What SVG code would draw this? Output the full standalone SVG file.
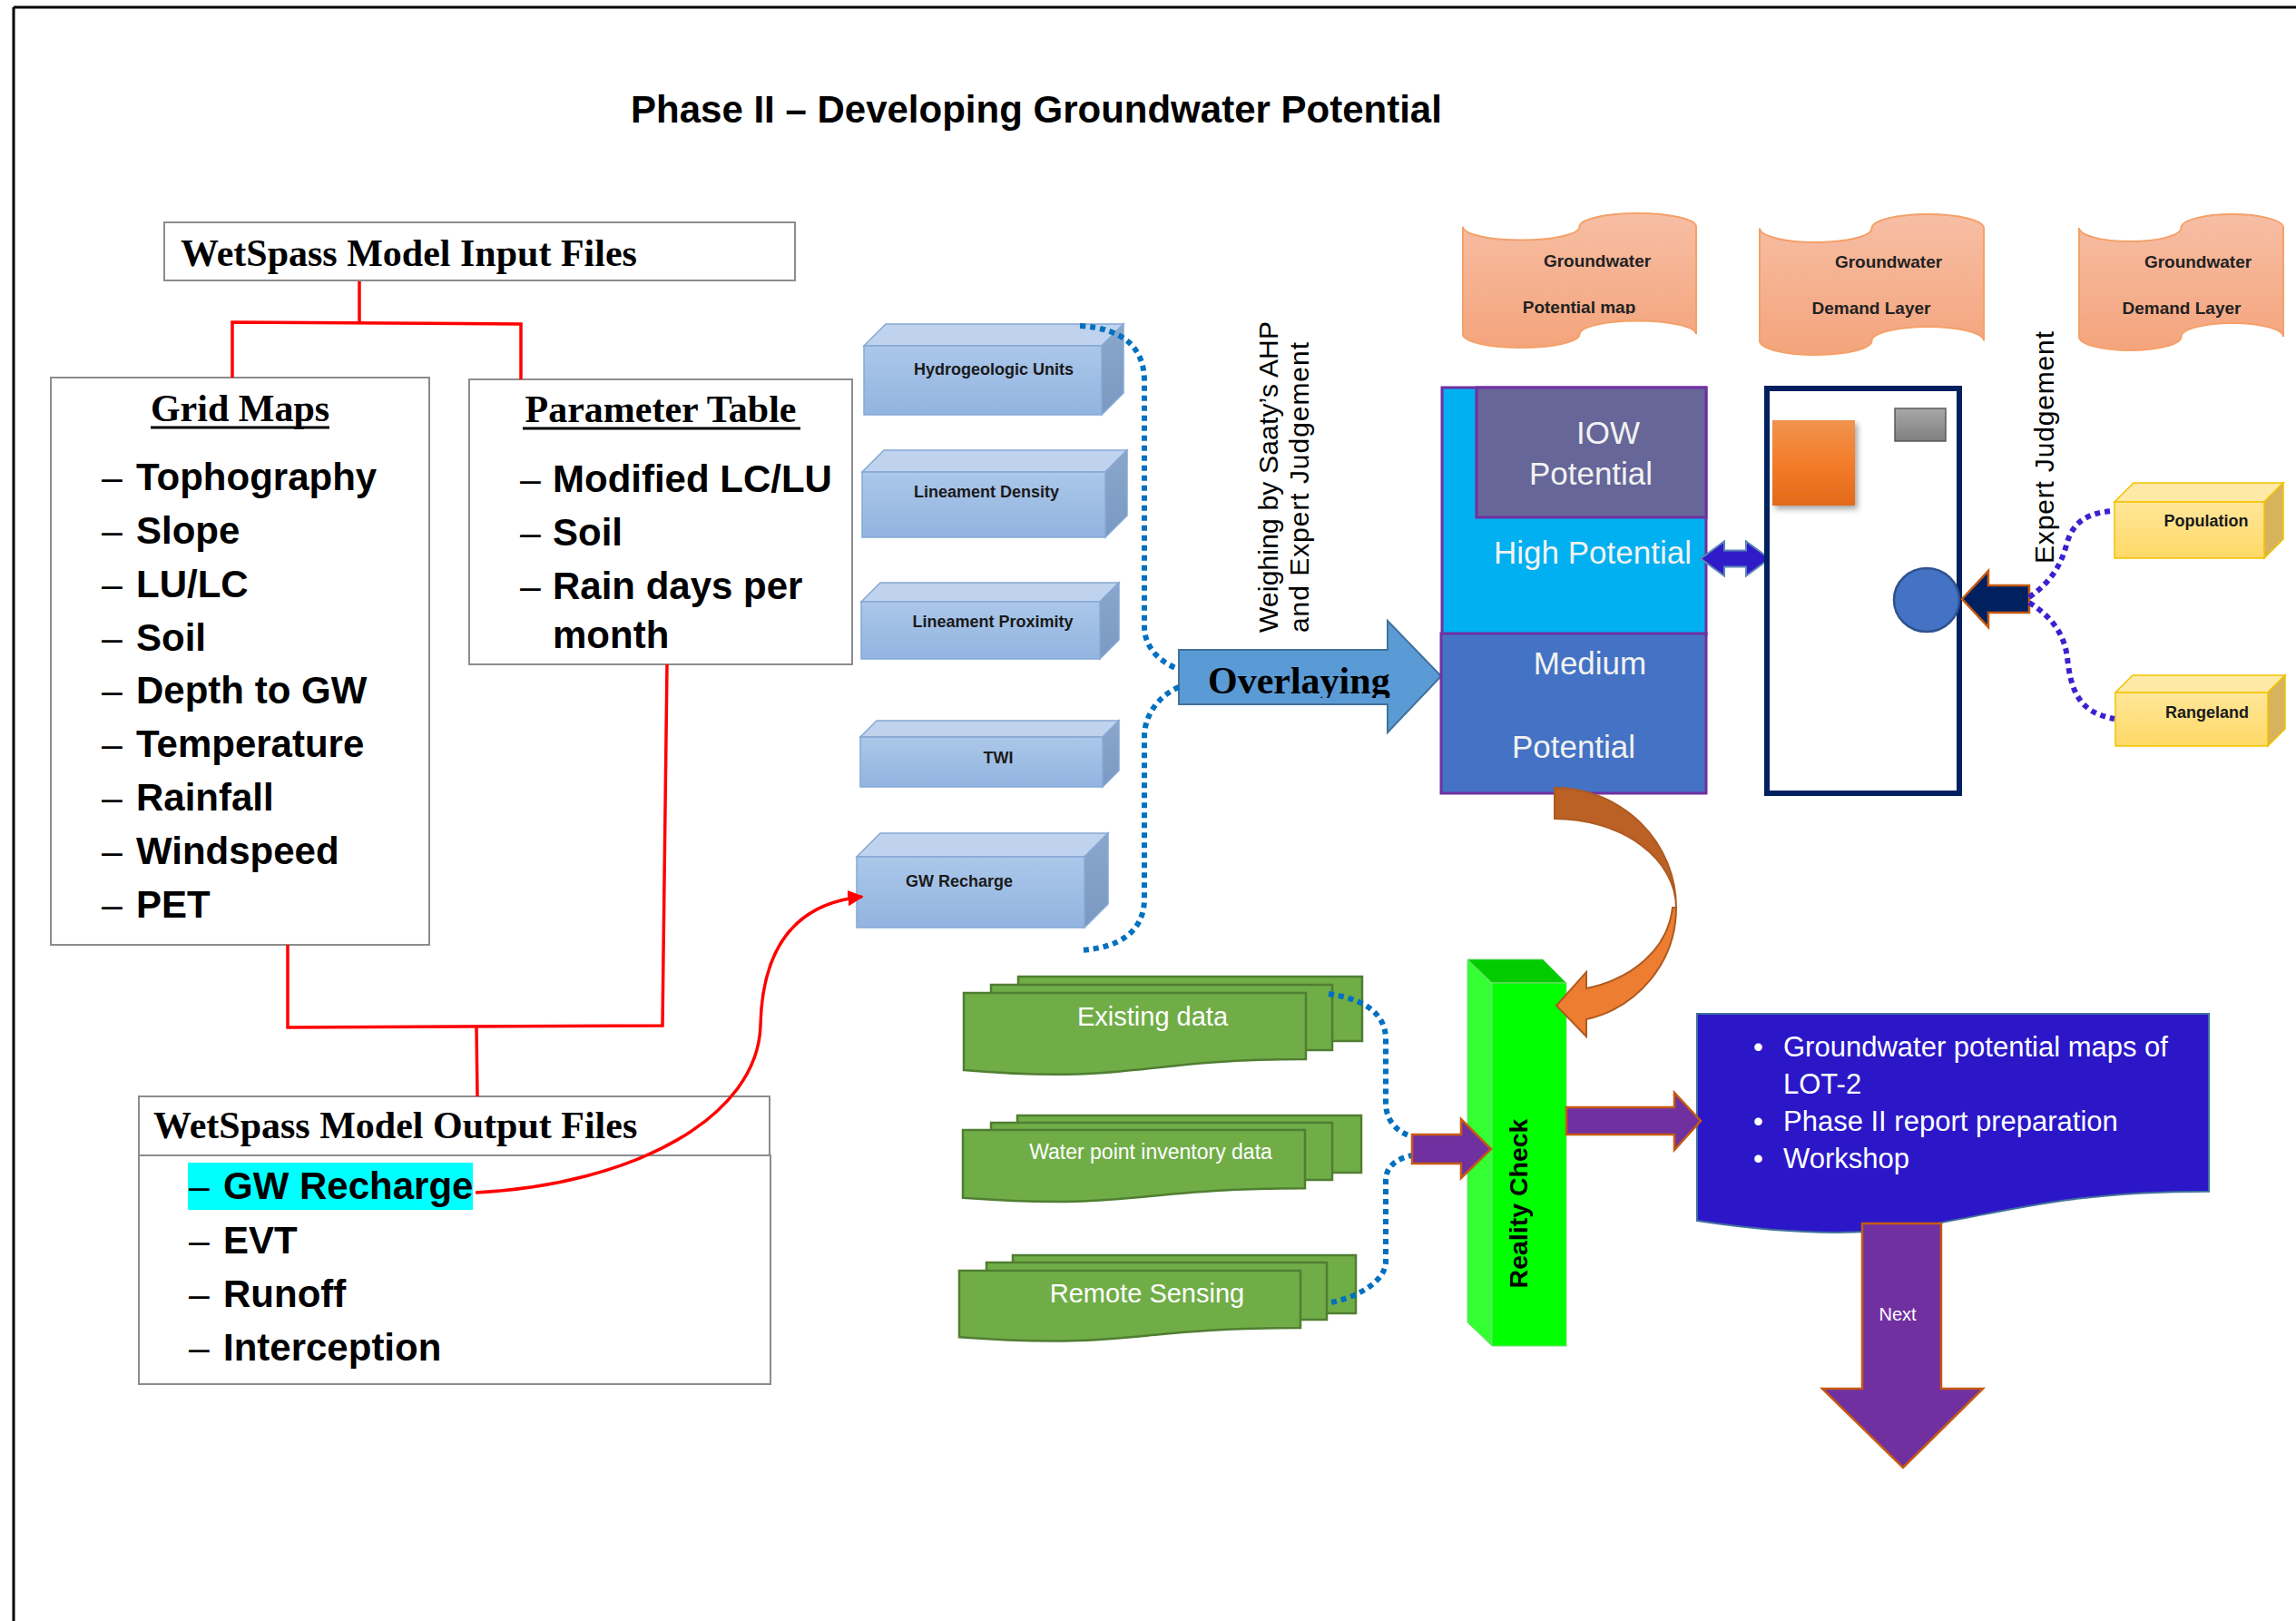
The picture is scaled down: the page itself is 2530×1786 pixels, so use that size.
<svg xmlns="http://www.w3.org/2000/svg" width="2530" height="1786" viewBox="0 0 2530 1786">
<defs>
<style>
.frame{stroke:#000;stroke-width:3;fill:none}
.box{fill:#fff;stroke:#8c8c8c;stroke-width:2}
.hd{font-family:"Liberation Serif","Times New Roman",serif;font-weight:bold;font-size:42px;fill:#000}
.it{font-family:"Liberation Sans",Arial,sans-serif;font-weight:bold;font-size:42px;fill:#000}
.ds{font-family:"Liberation Sans",Arial,sans-serif;font-size:41px;fill:#000}
.rl{stroke:#ff0000;stroke-width:3.5;fill:none}
.bdot{stroke:#0070c0;stroke-width:6;stroke-dasharray:6 5;fill:none}
.pdot{stroke:#3a22d0;stroke-width:6;stroke-dasharray:6 5;fill:none}
.bf{fill:url(#gBlueF);stroke:#86a8d4;stroke-width:1.5}
.bt{fill:#bfd3ee;stroke:#86a8d4;stroke-width:1.5}
.bs{fill:url(#gBlueS);stroke:#86a8d4;stroke-width:1.5}
.bl{font-family:"Liberation Sans",Arial,sans-serif;font-weight:bold;font-size:18px;fill:#1a1a1a;text-anchor:middle}
.yf{fill:url(#gYelF);stroke:#f2c200;stroke-width:1.5}
.yt{fill:#ffe9a6;stroke:#f2c200;stroke-width:1.5}
.ys{fill:#d8b35e;stroke:#f2c200;stroke-width:1.5}
.od{fill:url(#gOrDoc);stroke:#f4a169;stroke-width:2}
.ol{font-family:"Liberation Sans",Arial,sans-serif;font-weight:bold;font-size:19px;fill:#222;text-anchor:middle}
.pt{font-family:"Liberation Sans",Arial,sans-serif;font-size:35px;fill:#f2f2f2;text-anchor:middle}
.gd{fill:#70ad47;stroke:#507e32;stroke-width:2.5}
.gl{font-family:"Liberation Sans",Arial,sans-serif;fill:#fff;text-anchor:middle}
.vt{font-family:"Liberation Sans",Arial,sans-serif;font-size:30px;fill:#000}
.pa{fill:#7030a0;stroke:#c55a11;stroke-width:2.5}
.wt{font-family:"Liberation Sans",Arial,sans-serif;font-size:31px;fill:#fff}
</style>
<linearGradient id="gBlueF" x1="0" y1="0" x2="0" y2="1"><stop offset="0" stop-color="#abc7ea"/><stop offset="1" stop-color="#92b4df"/></linearGradient>
<linearGradient id="gBlueS" x1="0" y1="0" x2="0" y2="1"><stop offset="0" stop-color="#8aa6cb"/><stop offset="1" stop-color="#7a99c2"/></linearGradient>
<linearGradient id="gYelF" x1="0" y1="0" x2="0" y2="1"><stop offset="0" stop-color="#ffe699"/><stop offset="1" stop-color="#ffd966"/></linearGradient>
<linearGradient id="gOrDoc" x1="0" y1="0" x2="0" y2="1"><stop offset="0" stop-color="#f7bea4"/><stop offset="1" stop-color="#f4a47c"/></linearGradient>
<linearGradient id="gOrRect" x1="0" y1="0" x2="0" y2="1"><stop offset="0" stop-color="#f0934f"/><stop offset="0.5" stop-color="#f47c2a"/><stop offset="1" stop-color="#e26a1a"/></linearGradient>
<linearGradient id="gGray" x1="0" y1="0" x2="0" y2="1"><stop offset="0" stop-color="#a8a8a8"/><stop offset="1" stop-color="#7f7f7f"/></linearGradient>
<filter id="shadow" x="-20%" y="-20%" width="150%" height="150%"><feDropShadow dx="3" dy="4" stdDeviation="3" flood-color="#000" flood-opacity="0.35"/></filter>
<marker id="redHead" viewBox="0 0 10 10" refX="9" refY="5" markerWidth="5" markerHeight="5" orient="auto" markerUnits="strokeWidth"><path d="M0,0 L10,5 L0,10 Z" fill="#ff0000"/></marker>
<clipPath id="clipOver"><rect x="1290" y="700" width="320" height="69"/></clipPath>
<clipPath id="clipDoc1"><rect x="1600" y="230" width="280" height="116"/></clipPath>
</defs>

<rect x="0" y="0" width="2530" height="1786" fill="#fff"/>
<g id="page-frame">
<line class="frame" x1="15" y1="8" x2="2530" y2="8"/>
<line class="frame" x1="15" y1="8" x2="15" y2="1786"/>
</g>

<g id="title">
<text x="695" y="135" font-family="'Liberation Sans',Arial,sans-serif" font-weight="bold" font-size="42" fill="#000">Phase II – Developing Groundwater Potential</text>
</g>

<g id="input-files">
<rect class="box" x="181" y="245" width="695" height="64"/>
<text class="hd" x="199" y="293">WetSpass Model Input Files</text>
</g>

<g id="grid-maps">
<rect class="box" x="56" y="416" width="417" height="625"/>
<text class="hd" x="264.5" y="464" text-anchor="middle">Grid Maps</text>
<line x1="166" y1="471" x2="363" y2="471" stroke="#000" stroke-width="3"/>
<text class="ds" x="112" y="540">–</text><text class="it" x="150" y="540">Tophography</text>
<text class="ds" x="112" y="599">–</text><text class="it" x="150" y="599">Slope</text>
<text class="ds" x="112" y="658">–</text><text class="it" x="150" y="658">LU/LC</text>
<text class="ds" x="112" y="717">–</text><text class="it" x="150" y="717">Soil</text>
<text class="ds" x="112" y="775">–</text><text class="it" x="150" y="775">Depth to GW</text>
<text class="ds" x="112" y="834">–</text><text class="it" x="150" y="834">Temperature</text>
<text class="ds" x="112" y="893">–</text><text class="it" x="150" y="893">Rainfall</text>
<text class="ds" x="112" y="952">–</text><text class="it" x="150" y="952">Windspeed</text>
<text class="ds" x="112" y="1011">–</text><text class="it" x="150" y="1011">PET</text>
</g>

<g id="parameter-table">
<rect class="box" x="517" y="418" width="422" height="314"/>
<text class="hd" x="728" y="465" text-anchor="middle">Parameter Table</text>
<line x1="576" y1="472" x2="882" y2="472" stroke="#000" stroke-width="3"/>
<text class="ds" x="573" y="542">–</text><text class="it" x="609" y="542">Modified LC/LU</text>
<text class="ds" x="573" y="601">–</text><text class="it" x="609" y="601">Soil</text>
<text class="ds" x="573" y="660">–</text><text class="it" x="609" y="660">Rain days per</text>
<text class="it" x="609" y="714">month</text>
</g>

<g id="output-files">
<rect class="box" x="153" y="1208" width="695" height="65"/>
<rect class="box" x="153" y="1273" width="696" height="252"/>
<text class="hd" x="169" y="1254">WetSpass Model Output Files</text>
<rect x="207" y="1281" width="314" height="52" fill="#00ffff"/>
<text class="ds" x="208" y="1321">–</text><text class="it" x="246" y="1321">GW Recharge</text>
<text class="ds" x="208" y="1381">–</text><text class="it" x="246" y="1381">EVT</text>
<text class="ds" x="208" y="1440">–</text><text class="it" x="246" y="1440">Runoff</text>
<text class="ds" x="208" y="1499">–</text><text class="it" x="246" y="1499">Interception</text>
</g>

<g id="hydrogeologic-units">
<polygon class="bt" points="952,381 976,357 1238,357 1214,381"/>
<polygon class="bs" points="1214,381 1238,357 1238,433 1214,457"/>
<rect class="bf" x="952" y="381" width="262" height="76"/>
<text class="bl" x="1095" y="413">Hydrogeologic Units</text>
</g>
<g id="lineament-density">
<polygon class="bt" points="950,520 974,496 1242,496 1218,520"/>
<polygon class="bs" points="1218,520 1242,496 1242,568 1218,592"/>
<rect class="bf" x="950" y="520" width="268" height="72"/>
<text class="bl" x="1087" y="548">Lineament Density</text>
</g>
<g id="lineament-proximity">
<polygon class="bt" points="949,663 970,642 1233,642 1212,663"/>
<polygon class="bs" points="1212,663 1233,642 1233,705 1212,726"/>
<rect class="bf" x="949" y="663" width="263" height="63"/>
<text class="bl" x="1094" y="691">Lineament Proximity</text>
</g>
<g id="twi">
<polygon class="bt" points="948,812 966,794 1233,794 1215,812"/>
<polygon class="bs" points="1215,812 1233,794 1233,849 1215,867"/>
<rect class="bf" x="948" y="812" width="267" height="55"/>
<text class="bl" x="1100" y="841">TWI</text>
</g>
<g id="gw-recharge-layer">
<polygon class="bt" points="944,944 970,918 1221,918 1195,944"/>
<polygon class="bs" points="1195,944 1221,918 1221,996 1195,1022"/>
<rect class="bf" x="944" y="944" width="251" height="78"/>
<text class="bl" x="1057" y="977">GW Recharge</text>
</g>

<g id="overlaying">
<path d="M1299,716 L1529,716 L1529,684 L1588,745 L1529,807 L1529,776 L1299,776 Z" fill="#5b9bd5" stroke="#41719c" stroke-width="2"/>
<text class="hd" x="1331" y="764" clip-path="url(#clipOver)">Overlaying</text>
</g>

<g id="weighing-label">
<text class="vt" transform="translate(1408,697) rotate(-90)" textLength="343" lengthAdjust="spacing">Weighing by Saaty’s AHP</text>
<text class="vt" transform="translate(1442,697) rotate(-90)" textLength="320" lengthAdjust="spacing">and Expert Judgement</text>
</g>

<g id="gw-potential-map-doc">
<path class="od" d="M1612,249.8 A64.25,14.8 0 0 0 1740.5,249.8 A64.25,14.8 0 0 1 1869,249.8 L1869,368.2 A64.25,14.8 0 0 0 1740.5,368.2 A64.25,14.8 0 0 1 1612,368.2 Z"/>
<text class="ol" x="1760" y="294">Groundwater</text>
<text class="ol" x="1740" y="345" clip-path="url(#clipDoc1)">Potential map</text>
</g>
<g id="gw-demand-layer-1">
<path class="od" d="M1939,251.5 A61.75,15.5 0 0 0 2062.5,251.5 A61.75,15.5 0 0 1 2186,251.5 L2186,375.5 A61.75,15.5 0 0 0 2062.5,375.5 A61.75,15.5 0 0 1 1939,375.5 Z"/>
<text class="ol" x="2081" y="295">Groundwater</text>
<text class="ol" x="2062" y="346">Demand Layer</text>
</g>
<g id="gw-demand-layer-2">
<path class="od" d="M2291,251 A56.25,15 0 0 0 2403.5,251 A56.25,15 0 0 1 2516,251 L2516,371 A56.25,15 0 0 0 2403.5,371 A56.25,15 0 0 1 2291,371 Z"/>
<text class="ol" x="2422" y="295">Groundwater</text>
<text class="ol" x="2404" y="346">Demand Layer</text>
</g>

<g id="potential-classes">
<rect x="1589" y="427" width="291" height="272" fill="#00b0f0" stroke="#7030a0" stroke-width="3"/>
<rect x="1627" y="427" width="253" height="143" fill="#666699" stroke="#7030a0" stroke-width="3"/>
<rect x="1588" y="698" width="292" height="176" fill="#4472c4" stroke="#7030a0" stroke-width="3"/>
<text class="pt" x="1772" y="489">IOW</text>
<text class="pt" x="1753" y="534">Potential</text>
<text class="pt" x="1755" y="621">High Potential</text>
<text class="pt" x="1752" y="743">Medium</text>
<text class="pt" x="1734" y="835">Potential</text>
</g>

<g id="double-arrow">
<path d="M1874,615.5 L1900,596.5 L1900,606.5 L1924,606.5 L1924,596.5 L1950,615.5 L1924,634.5 L1924,624.5 L1900,624.5 L1900,634.5 Z" fill="#2f1cc8" stroke="#5b86b5" stroke-width="2"/>
</g>

<g id="demand-frame">
<rect x="1947" y="428" width="212" height="446" fill="#fff" stroke="#002060" stroke-width="6"/>
<rect x="1953" y="463" width="91" height="94" fill="url(#gOrRect)" filter="url(#shadow)"/>
<rect x="2088" y="450" width="56" height="36" fill="url(#gGray)" stroke="#595959" stroke-width="1.5"/>
<ellipse cx="2123" cy="661" rx="36" ry="35" fill="#4472c4" stroke="#2f528f" stroke-width="2.5"/>
</g>

<g id="navy-arrow">
<path d="M2162,660 L2191,629 L2191,645 L2236,645 L2236,675 L2191,675 L2191,691 Z" fill="#002060" stroke="#c55a11" stroke-width="2.5"/>
</g>

<g id="expert-label">
<text class="vt" font-size="31" transform="translate(2263,621) rotate(-90)" textLength="256" lengthAdjust="spacing">Expert Judgement</text>
</g>

<g id="population">
<polygon class="yt" points="2330,553 2351,532 2516,532 2495,553"/>
<polygon class="ys" points="2495,553 2516,532 2516,594 2495,615"/>
<rect class="yf" x="2330" y="553" width="165" height="62"/>
<text class="bl" x="2431" y="580">Population</text>
</g>
<g id="rangeland">
<polygon class="yt" points="2331,763 2350,744 2518,744 2499,763"/>
<polygon class="ys" points="2499,763 2518,744 2518,803 2499,822"/>
<rect class="yf" x="2331" y="763" width="168" height="59"/>
<text class="bl" x="2432" y="791">Rangeland</text>
</g>

<g id="existing-data">
<rect class="gd" x="1122" y="1076" width="379" height="71"/>
<rect class="gd" x="1092" y="1085" width="376" height="72"/>
<path class="gd" d="M1062,1094 H1439 V1167 C1250.5,1167 1250.5,1194.8 1062,1179 Z"/>
<text class="gl" x="1270" y="1130" font-size="29">Existing data</text>
</g>
<g id="water-point-inventory">
<rect class="gd" x="1121" y="1229" width="379" height="63"/>
<rect class="gd" x="1092" y="1237" width="376" height="63"/>
<path class="gd" d="M1061,1245 H1438 V1309.2 C1249.5,1309.2 1249.5,1333.6 1061,1319.7 Z"/>
<text class="gl" x="1268" y="1277" font-size="23">Water point inventory data</text>
</g>
<g id="remote-sensing">
<rect class="gd" x="1116" y="1383" width="378" height="64"/>
<rect class="gd" x="1087" y="1391" width="375" height="63"/>
<path class="gd" d="M1057,1400 H1433 V1463 C1245,1463 1245,1486.9 1057,1473.3 Z"/>
<text class="gl" x="1264" y="1435" font-size="29">Remote Sensing</text>
</g>

<g id="reality-check">
<polygon points="1617,1057 1644,1083 1644,1483 1617,1457" fill="#33ff33" stroke="#7fd87f" stroke-width="1"/>
<polygon points="1617,1057 1700,1057 1726,1083 1644,1083" fill="#00cc00" stroke="#7fd87f" stroke-width="1"/>
<rect x="1644" y="1083" width="82" height="400" fill="#00ff00" stroke="#7fd87f" stroke-width="1"/>
<text transform="translate(1683,1326) rotate(-90)" text-anchor="middle" font-family="'Liberation Sans',Arial,sans-serif" font-weight="bold" font-size="28.5" fill="#000">Reality Check</text>
</g>

<g id="deliverables">
<path d="M1870,1117 H2434 V1312.7 C2152,1312.7 2152,1387.2 1870,1345 Z" fill="#2b17c8" stroke="#41719c" stroke-width="2"/>
<text class="wt" x="1932" y="1164">•</text><text class="wt" x="1965" y="1164">Groundwater potential maps of</text>
<text class="wt" x="1965" y="1205">LOT-2</text>
<text class="wt" x="1932" y="1246">•</text><text class="wt" x="1965" y="1246">Phase II report preparation</text>
<text class="wt" x="1932" y="1287">•</text><text class="wt" x="1965" y="1287">Workshop</text>
</g>

<g id="connectors">
<path class="rl" d="M396,310 L396,356 M256,416 L256,355 L574,357 L574,418"/>
<path class="rl" d="M317,1041 L317,1132 L730,1130 L735,732 M525,1131 L526,1208"/>
<path class="rl" d="M524,1314 C700,1305 835,1230 838,1130 C840,1040 880,995 950,988" marker-end="url(#redHead)"/>
<path class="bdot" d="M1190,359 C1240,362 1261,385 1261,420 L1261,690 C1261,715 1280,730 1298,737"/>
<path class="bdot" d="M1299,757 C1280,765 1261,785 1261,812 L1261,990 C1261,1025 1235,1045 1189,1047"/>
<path class="bdot" d="M1464,1095 C1500,1100 1527,1115 1527,1145 L1527,1215 C1527,1235 1540,1248 1556,1252"/>
<path class="bdot" d="M1467,1435 C1500,1428 1527,1410 1527,1390 L1527,1300 C1527,1285 1540,1276 1556,1273"/>
<path class="pdot" d="M2236,658 C2262,640 2272,620 2278,597 C2285,575 2300,565 2328,563"/>
<path class="pdot" d="M2236,664 C2262,680 2275,700 2278,725 C2282,760 2290,785 2330,792"/>
</g>

<g id="block-arrows">
<path d="M1713,868 A134,132 0 0 1 1847,1000 A134,98 0 0 0 1713,902 Z" fill="#bb6125" stroke="#ae5a21" stroke-width="2"/>
<path d="M1847,1000 C1847,1060 1805,1110 1748,1123 L1748,1142 L1715,1108 L1748,1071 L1748,1089 C1800,1078 1838,1045 1843,1000 Z" fill="#ed7d31" stroke="#ae5a21" stroke-width="2"/>
<path class="pa" d="M1556,1250 L1610,1250 L1610,1233 L1643,1266 L1610,1298 L1610,1282 L1556,1282 Z"/>
<path class="pa" d="M1726,1220 L1845,1220 L1845,1204 L1874,1235 L1845,1267 L1845,1250 L1726,1250 Z"/>
</g>

<g id="next-arrow">
<path class="pa" d="M2052,1348 L2139,1348 L2139,1530 L2185,1530 L2097,1617 L2008,1530 L2052,1530 Z"/>
<text x="2091" y="1455" text-anchor="middle" font-family="'Liberation Sans',Arial,sans-serif" font-size="20" fill="#fff">Next</text>
</g>
</svg>
